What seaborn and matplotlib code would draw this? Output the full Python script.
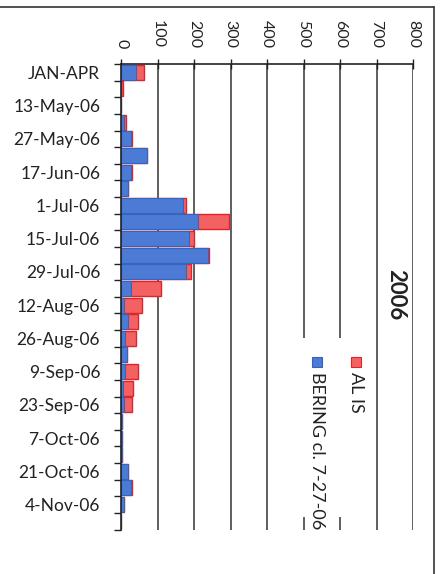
import numpy as np
import pandas as pd
import seaborn as sns
import matplotlib
matplotlib.use("Agg")
import matplotlib.pyplot as plt
from matplotlib.patches import Rectangle
from matplotlib.ticker import FixedLocator

# Weekly categories (every other one is labelled on the axis)
categories = [
    "JAN-APR", "6-May-06", "13-May-06", "20-May-06", "27-May-06", "10-Jun-06",
    "17-Jun-06", "24-Jun-06", "1-Jul-06", "8-Jul-06", "15-Jul-06", "22-Jul-06",
    "29-Jul-06", "5-Aug-06", "12-Aug-06", "19-Aug-06", "26-Aug-06", "2-Sep-06",
    "9-Sep-06", "16-Sep-06", "23-Sep-06", "30-Sep-06", "7-Oct-06", "14-Oct-06",
    "21-Oct-06", "28-Oct-06", "4-Nov-06", "11-Nov-06",
]
bering = [41, 0, 0, 9, 27, 70, 27, 18, 171, 212, 186, 237, 178, 27,
          9, 18, 12, 16, 10, 6, 8, 3, 2, 3, 18, 27, 9, 0]
al_is = [22, 6, 0, 5, 4, 0, 4, 0, 6, 85, 14, 5, 13, 83,
         49, 28, 30, 0, 36, 28, 21, 0, 0, 0, 0, 4, 0, 0]
value_ticks = [0, 100, 200, 300, 400, 500, 600, 700, 800]
series_names = ["AL IS", "BERING cl. 7-27-06"]
title = "2006"

df = pd.DataFrame({"week": categories, "bering": bering, "al_is": al_is})
df["total"] = df["bering"] + df["al_is"]

sns.set_style("white")
plt.rcParams["font.family"] = ["Lato", "DejaVu Sans"]

W, H = 441, 574
fig = plt.figure(figsize=(W / 100, H / 100), dpi=100)
ax = fig.add_axes([121 / W, 1 - 529.5 / H, 292 / W, 465.5 / H])

red_fill, red_edge = "#f26262", "#e3232a"
blue_fill, blue_edge = "#4b7bd4", "#3763bd"

# Vertical grid lines, drawn first so the bars sit on top of them
for v in value_ticks[1:]:
    ax.axvline(v, color="#333333", linewidth=1.1, zorder=0.5)

# Stacked bars: total (red cap) underneath, Bering portion drawn over it
sns.barplot(data=df, x="total", y="week", order=categories, orient="h",
            color=red_fill, edgecolor=red_edge, linewidth=1.0, width=0.9,
            saturation=1, ax=ax)
sns.barplot(data=df, x="bering", y="week", order=categories, orient="h",
            color=blue_fill, edgecolor=blue_edge, linewidth=0.8, width=0.9,
            saturation=1, ax=ax)
for p in ax.patches:
    p.set_zorder(3)
for ln in ax.lines:
    ln.set_zorder(0.5)

n = len(categories)
ax.set_xlim(value_ticks[0], value_ticks[-1])
ax.set_ylim(n - 0.5, -0.5)
ax.set_xlabel("")
ax.set_ylabel("")
ax.grid(False)

# Value axis along the top, labels turned sideways
ax.xaxis.tick_top()
ax.set_xticks(value_ticks)
ax.set_xticklabels([str(v) for v in value_ticks], rotation=270, fontsize=11.5,
                   color="#222222")
ax.tick_params(axis="x", which="major", direction="inout", length=7, width=1.0,
               pad=8, color="#222222")

# Category axis: labels on every other week, tick marks at category borders
ax.set_yticks(range(0, n, 2))
ax.set_yticklabels(categories[0::2], fontsize=12.5, color="#222222")
ax.yaxis.set_minor_locator(FixedLocator(np.arange(-0.5, n, 1.0)))
ax.tick_params(axis="y", which="major", length=0, pad=15)
ax.tick_params(axis="y", which="minor", direction="out", length=5, width=1.0,
               color="#222222", left=True)

for side in ["right", "bottom"]:
    ax.spines[side].set_visible(False)
for side in ["top", "left"]:
    ax.spines[side].set_color("#222222")
    ax.spines[side].set_linewidth(1.2)
    ax.spines[side].set_zorder(6)

# Legend panel covering the grid
ax.add_patch(Rectangle((0.60, 0.027), 0.245, 0.384, transform=ax.transAxes,
                       facecolor="white", edgecolor="none", zorder=2))

def fx(px):
    return px / W

def fy(py):
    return 1 - py / H

sq = 10
for (cx, name, fill, edge) in [(356, series_names[0], red_fill, red_edge),
                               (317, series_names[1], blue_fill, blue_edge)]:
    fig.add_artist(Rectangle((fx(cx - sq / 2), fy(367)), sq / W, sq / H,
                             transform=fig.transFigure, facecolor=fill,
                             edgecolor=edge, linewidth=0.8))
    fig.text(fx(cx), fy(372), name, rotation=270, ha="center", va="top",
             fontsize=13, color="#222222")

fig.text(fx(396), fy(295), title, rotation=270, ha="center", va="center",
         fontsize=16, fontweight="bold", color="#222222")

# Page border on top and right
fig.add_artist(plt.Line2D([0, fx(434)], [fy(7), fy(7)], transform=fig.transFigure,
                          color="#333333", linewidth=1.2))
fig.add_artist(plt.Line2D([fx(434), fx(434)], [fy(7), 0], transform=fig.transFigure,
                          color="#333333", linewidth=1.2))

fig.savefig("out.png", dpi=100)
